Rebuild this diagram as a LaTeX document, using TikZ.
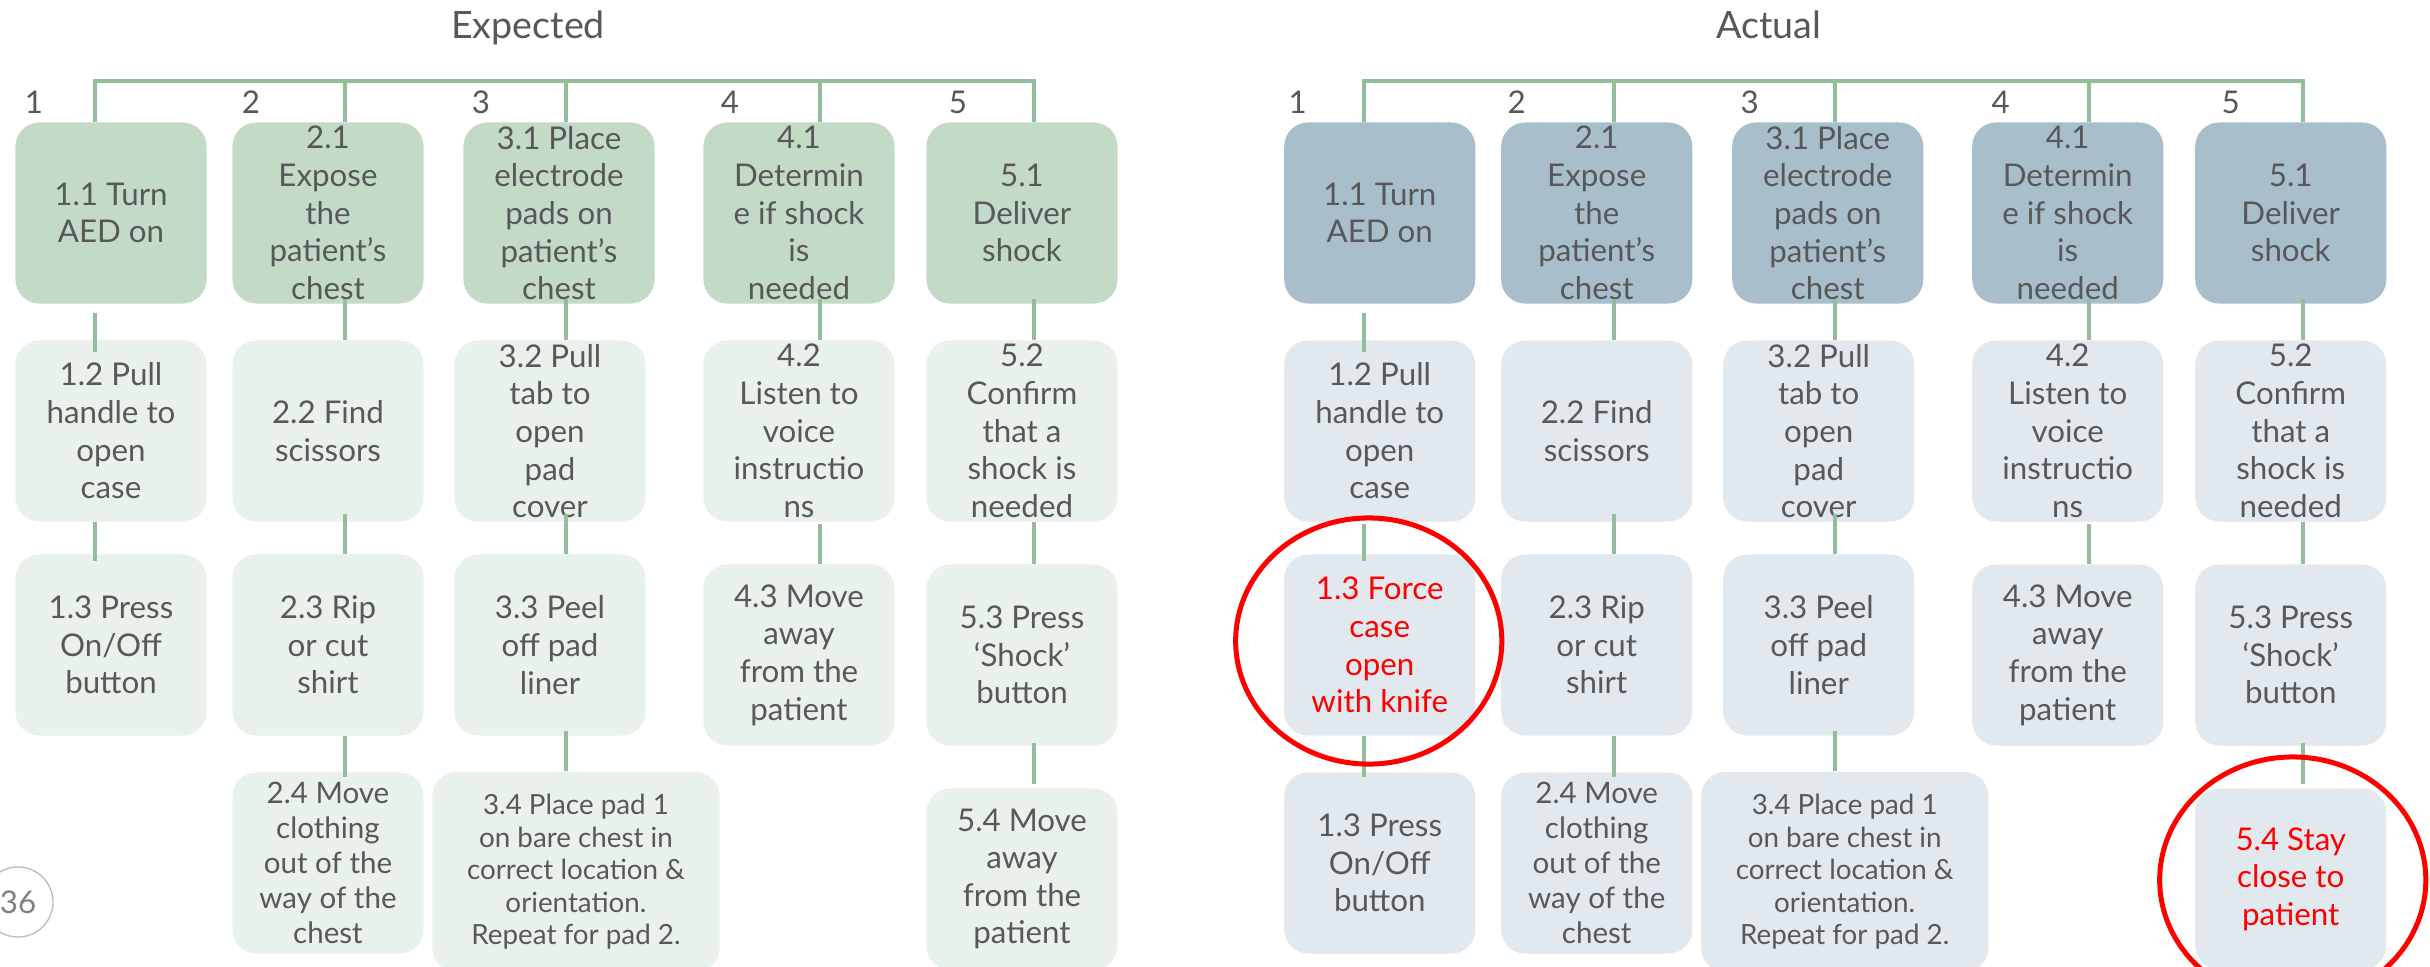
\documentclass[tikz,border=0pt]{standalone}
\usepackage{fontspec}
\setmainfont{Lato}
\usetikzlibrary{calc,shapes.geometric}

\definecolor{sage}{HTML}{C3DAC6}
\definecolor{sagepale}{HTML}{E8F1EA}
\definecolor{steel}{HTML}{A8BFCB}
\definecolor{steelpale}{HTML}{E1E9EE}
\definecolor{twig}{HTML}{92BE9B}
\definecolor{ink}{HTML}{57585A}
\definecolor{alarm}{HTML}{FF0000}

\begin{document}
\begin{tikzpicture}[
  x=0.01cm, y=-0.01cm,
  task/.style={rounded corners=0.24cm, minimum width=1.91cm, minimum height=1.81cm,
               inner sep=0pt, align=center, text=ink,
               font=\fontsize{8.9}{10.7}\selectfont},
  toptask/.style={task, fill=sage},
  subtask/.style={task, fill=sagepale},
  atoptask/.style={task, fill=steel},
  asubtask/.style={task, fill=steelpale},
  snug/.style={font=\fontsize{8.4}{10}\selectfont},
  wide/.style={minimum width=2.87cm, minimum height=2cm,
               font=\fontsize{7.9}{9.25}\selectfont},
  heading/.style={anchor=base, text=ink, font=\fontsize{10.7}{13}\selectfont},
  colnum/.style={anchor=base, text=ink, font=\fontsize{8.9}{10.7}\selectfont},
  link/.style={draw=twig, line width=0.045cm},
  ring/.style={ellipse, draw=alarm, line width=0.05cm, minimum width=2.66cm,
               minimum height=2.46cm, inner sep=0pt},
  pagemark/.style={circle, draw=black!25, line width=0.4pt, minimum size=0.7cm,
                   inner sep=0pt, text=black!50, font=\fontsize{8.9}{10.7}\selectfont}
]
\path[fill=white, use as bounding box] (0,0) rectangle (2430,966);

% expected
\node[heading] (expected) at (528,38) {Expected};
\node[colnum] (en1) at (34,113) {1};
\node[colnum] (en2) at (251,113) {2};
\node[colnum] (en3) at (481,113) {3};
\node[colnum] (en4) at (730,113) {4};
\node[colnum] (en5) at (958,113) {5};
\coordinate (ec1) at (95,81);
\coordinate (ec2) at (345,81);
\coordinate (ec3) at (566,81);
\coordinate (ec4) at (820,81);
\coordinate (ec5) at (1034,81);

\node[toptask] (e11) at (111,213) {1.1 Turn\\AED on};
\node[toptask] (e21) at (328,213) {2.1\\Expose\\the\\patient’s\\chest};
\node[toptask] (e31) at (559,213) {3.1 Place\\electrode\\pads on\\patient’s\\chest};
\node[toptask] (e41) at (799,213) {4.1\\Determin\\e if shock\\is\\needed};
\node[toptask] (e51) at (1022,213) {5.1\\Deliver\\shock};

\node[subtask] (e12) at (111,431) {1.2 Pull\\handle to\\open\\case};
\node[subtask] (e22) at (328,431) {2.2 Find\\scissors};
\node[subtask] (e32) at (550,431) {3.2 Pull\\tab to\\open\\pad\\cover};
\node[subtask] (e42) at (799,431) {4.2\\Listen to\\voice\\instructio\\ns};
\node[subtask] (e52) at (1022,431) {5.2\\Confirm\\that a\\shock is\\needed};

\node[subtask] (e13) at (111,645) {1.3 Press\\On/Off\\button};
\node[subtask] (e23) at (328,645) {2.3 Rip\\or cut\\shirt};
\node[subtask] (e33) at (550,645) {3.3 Peel\\off pad\\liner};
\node[subtask] (e43) at (799,655) {4.3 Move\\away\\from the\\patient};
\node[subtask] (e53) at (1022,655) {5.3 Press\\‘Shock’\\button};

\node[subtask, snug] (e24) at (328,863) {2.4 Move\\clothing\\out of the\\way of the\\chest};
\node[subtask, wide] (e34) at (576,872) {3.4 Place pad 1\\on bare chest in\\correct location \&\\orientation.\\Repeat for pad 2.};
\node[subtask] (e54) at (1022,879) {5.4 Move\\away\\from the\\patient};

\draw[link] (e11.north -| ec1) |- (ec5) -- (e51.north -| ec5);
\draw[link] (ec2) -- (e21.north -| ec2);
\draw[link] (ec3) -- (e31.north -| ec3);
\draw[link] (ec4) -- (e41.north -| ec4);
\draw[link] ($(e11.south -| ec1)+(0,9)$) -- ($(e12.north -| ec1)+(0,12)$);
\draw[link] (e12.south -| ec1) -- ($(e13.north -| ec1)+(0,7)$);
\draw[link] ($(e21.south -| ec2)+(0,-5)$) -- (e22.north -| ec2);
\draw[link] ($(e22.south -| ec2)+(0,-8)$) -- (e23.north -| ec2);
\draw[link] (e23.south -| ec2) -- ($(e24.north -| ec2)+(0,5)$);
\draw[link] ($(e31.south -| ec3)+(0,-5)$) -- (e32.north -| ec3);
\draw[link] ($(e32.south -| ec3)+(0,-8)$) -- (e33.north -| ec3);
\draw[link] ($(e33.south -| ec3)+(0,-5)$) -- (e34.north -| ec3);
\draw[link] ($(e41.south -| ec4)+(0,-5)$) -- (e42.north -| ec4);
\draw[link] ($(e42.south -| ec4)+(0,2)$) -- (e43.north -| ec4);
\draw[link] ($(e51.south -| ec5)+(0,-5)$) -- (e52.north -| ec5);
\draw[link] (e52.south -| ec5) -- (e53.north -| ec5);
\draw[link] ($(e53.south -| ec5)+(0,-3)$) -- ($(e54.north -| ec5)+(0,-4)$);

\node[pagemark] (page) at (18,902) {36};

% actual
\begin{scope}[xshift=12.68cm]
\node[heading] (actual) at (500,38) {Actual};
\node[colnum] (an1) at (29,113) {1};
\node[colnum] (an2) at (248,113) {2};
\node[colnum] (an3) at (481,113) {3};
\node[colnum] (an4) at (732,113) {4};
\node[colnum] (an5) at (962,113) {5};
\coordinate (ac1) at (95,81);
\coordinate (ac2) at (345,81);
\coordinate (ac3) at (566,81);
\coordinate (ac4) at (820,81);
\coordinate (ac5) at (1034,81);

\node[atoptask] (a11) at (111,213) {1.1 Turn\\AED on};
\node[atoptask] (a21) at (328,213) {2.1\\Expose\\the\\patient’s\\chest};
\node[atoptask] (a31) at (559,213) {3.1 Place\\electrode\\pads on\\patient’s\\chest};
\node[atoptask] (a41) at (799,213) {4.1\\Determin\\e if shock\\is\\needed};
\node[atoptask] (a51) at (1022,213) {5.1\\Deliver\\shock};

\node[asubtask] (a12) at (111,431) {1.2 Pull\\handle to\\open\\case};
\node[asubtask] (a22) at (328,431) {2.2 Find\\scissors};
\node[asubtask] (a32) at (550,431) {3.2 Pull\\tab to\\open\\pad\\cover};
\node[asubtask] (a42) at (799,431) {4.2\\Listen to\\voice\\instructio\\ns};
\node[asubtask] (a52) at (1022,431) {5.2\\Confirm\\that a\\shock is\\needed};

\node[asubtask, text=alarm] (a13f) at (111,645) {1.3 Force\\case\\open\\with knife};
\node[asubtask] (a23) at (328,645) {2.3 Rip\\or cut\\shirt};
\node[asubtask] (a33) at (550,645) {3.3 Peel\\off pad\\liner};
\node[asubtask] (a43) at (799,655) {4.3 Move\\away\\from the\\patient};
\node[asubtask] (a53) at (1022,655) {5.3 Press\\‘Shock’\\button};

\node[asubtask] (a13p) at (111,863) {1.3 Press\\On/Off\\button};
\node[asubtask, snug] (a24) at (328,863) {2.4 Move\\clothing\\out of the\\way of the\\chest};
\node[asubtask, wide] (a34) at (576,872) {3.4 Place pad 1\\on bare chest in\\correct location \&\\orientation.\\Repeat for pad 2.};
\node[asubtask, text=alarm] (a54) at (1022,879) {5.4 Stay\\close to\\patient};

\draw[link] (a11.north -| ac1) |- (ac5) -- (a51.north -| ac5);
\draw[link] (ac2) -- (a21.north -| ac2);
\draw[link] (ac3) -- (a31.north -| ac3);
\draw[link] (ac4) -- (a41.north -| ac4);
\draw[link] ($(a11.south -| ac1)+(0,9)$) -- ($(a12.north -| ac1)+(0,12)$);
\draw[link] ($(a12.south -| ac1)+(0,2)$) -- ($(a13f.north -| ac1)+(0,7)$);
\draw[link] (a13f.south -| ac1) -- ($(a13p.north -| ac1)+(0,5)$);
\draw[link] ($(a21.south -| ac2)+(0,-5)$) -- (a22.north -| ac2);
\draw[link] ($(a22.south -| ac2)+(0,-8)$) -- (a23.north -| ac2);
\draw[link] (a23.south -| ac2) -- ($(a24.north -| ac2)+(0,5)$);
\draw[link] ($(a31.south -| ac3)+(0,-5)$) -- (a32.north -| ac3);
\draw[link] ($(a32.south -| ac3)+(0,-8)$) -- (a33.north -| ac3);
\draw[link] ($(a33.south -| ac3)+(0,-5)$) -- (a34.north -| ac3);
\draw[link] ($(a41.south -| ac4)+(0,-5)$) -- (a42.north -| ac4);
\draw[link] ($(a42.south -| ac4)+(0,2)$) -- (a43.north -| ac4);
\draw[link] ($(a51.south -| ac5)+(0,-5)$) -- (a52.north -| ac5);
\draw[link] (a52.south -| ac5) -- (a53.north -| ac5);
\draw[link] ($(a53.south -| ac5)+(0,-3)$) -- ($(a54.north -| ac5)+(0,-4)$);

\node[ring] (forcering) at (100,641) {};
\node[ring] (stayring) at (1024,880) {};
\end{scope}
\end{tikzpicture}
\end{document}
